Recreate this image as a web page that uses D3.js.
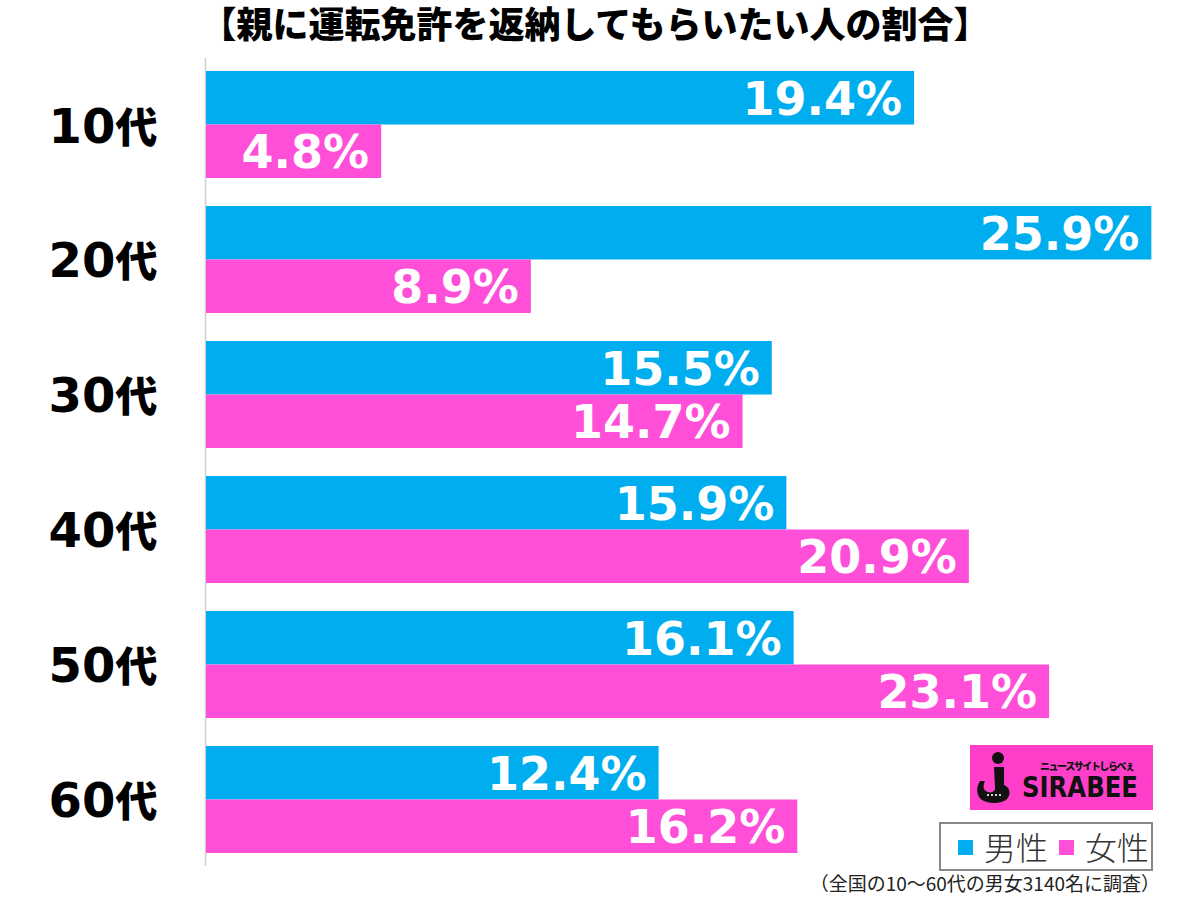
<!DOCTYPE html>
<html><head><meta charset="utf-8">
<script src="https://cdn.jsdelivr.net/npm/d3@7/dist/d3.min.js"></script>
<style>body{margin:0;background:#fff}svg{display:block}</style>
</head><body>
<svg id="c" width="1200" height="897"></svg>
<script>
const categories = ["10代","20代","30代","40代","50代","60代"];
const seriesNames = ["男性","女性"];
const male = [19.4, 25.9, 15.5, 15.9, 16.1, 12.4];
const female = [4.8, 8.9, 14.7, 20.9, 23.1, 16.2];
const title = "【親に運転免許を返納してもらいたい人の割合】";
const footnote = "（全国の10～60代の男女3140名に調査）";
const colors = ["#00aeef", "#ff4fd8"];

const svg = d3.select("#c");
const jp = "'Noto Sans CJK JP', 'Noto Sans', sans-serif";
const num = "'DejaVu Sans', 'Noto Sans CJK JP', sans-serif";
const x = d3.scaleLinear().domain([0, 10]).range([206, 571]);
const y = d3.scaleBand().domain(categories).range([71, 853]).paddingInner(0.2074).paddingOuter(0);
const ys = d3.scaleBand().domain(seriesNames).range([0, y.bandwidth()]);
const color = d3.scaleOrdinal().domain(seriesNames).range(colors);

const rows = categories.map((c, i) => ({cat: c, vals: [
  {s: seriesNames[0], v: male[i]}, {s: seriesNames[1], v: female[i]}]}));

// title
svg.append("text").attr("x", 595).attr("y", 38)
  .attr("text-anchor", "middle").attr("font-family", jp).attr("font-weight", 900)
  .attr("font-size", 36).attr("fill", "#000").text(title);

// axis line
svg.append("line").attr("x1", 205.5).attr("x2", 205.5).attr("y1", 58).attr("y2", 866)
  .attr("stroke", "#d0d0d0").attr("stroke-width", 1.5);

const g = svg.selectAll("g.row").data(rows).join("g").attr("class", "row")
  .attr("transform", d => `translate(0,${y(d.cat)})`);

g.selectAll("rect").data(d => d.vals).join("rect")
  .attr("x", x(0)).attr("y", d => ys(d.s))
  .attr("width", d => x(d.v) - x(0)).attr("height", ys.bandwidth())
  .attr("fill", d => color(d.s));

g.selectAll("text.val").data(d => d.vals).join("text").attr("class", "val")
  .attr("x", d => x(d.v) - 12).attr("y", d => ys(d.s) + ys.bandwidth() / 2 + 17)
  .attr("text-anchor", "end").attr("font-family", num)
  .attr("font-weight", 700).attr("font-size", 46).attr("fill", "#fff")
  .text(d => d.v.toFixed(1) + "%");

// category labels
const cl = g.append("text").attr("x", 103).attr("y", y.bandwidth() / 2 + 18)
  .attr("text-anchor", "middle").attr("fill", "#000");
cl.append("tspan").attr("font-family", num).attr("font-weight", 700).attr("font-size", 48)
  .text(d => d.cat.replace("代", ""));
cl.append("tspan").attr("font-family", jp).attr("font-weight", 900).attr("font-size", 42)
  .text("代");

// logo
const logo = svg.append("g").attr("transform", "translate(970,745)");
logo.append("rect").attr("width", 183).attr("height", 65).attr("fill", "#ff3fc9");
logo.append("circle").attr("cx", 28).attr("cy", 13).attr("r", 6).attr("fill", "#111");
logo.append("path")
  .attr("d", "M24,22 L34,22 L34,40 C40,42 42,50 36,55 C30,59 18,59 12,55 C6,51 6,42 10,36 L15,36 C13,40 13,44 16,46 C20,49 26,47 25,42 Z")
  .attr("fill", "#111");
[18, 22, 26, 30].forEach(cx => logo.append("circle").attr("cx", cx).attr("cy", 50).attr("r", 1.1).attr("fill", "#fff"));
logo.append("text").attr("x", 52).attr("y", 52).attr("font-family", "'DejaVu Sans', sans-serif")
  .attr("font-weight", 700).attr("font-size", 28)
  .attr("textLength", 116).attr("lengthAdjust", "spacingAndGlyphs").attr("fill", "#111").text("SIRABEE");
logo.append("text").attr("x", 70).attr("y", 25).attr("font-family", jp)
  .attr("font-weight", 900).attr("font-size", 10).attr("textLength", 95)
  .attr("fill", "#111").text("ニュースサイトしらべぇ");

// legend
const lg = svg.append("g").attr("transform", "translate(940,823)");
lg.append("rect").attr("x", 0).attr("y", 0).attr("width", 212).attr("height", 47)
  .attr("fill", "#fff").attr("stroke", "#888").attr("stroke-width", 2);
seriesNames.forEach((s, i) => {
  const ox = 18 + i * 101;
  lg.append("rect").attr("x", ox).attr("y", 17).attr("width", 15).attr("height", 15).attr("fill", color(s));
  lg.append("text").attr("x", ox + 26).attr("y", 37).attr("font-family", jp)
    .attr("font-weight", 300).attr("font-size", 32).attr("fill", "#333").text(s);
});

// footnote
svg.append("text").attr("x", 1160).attr("y", 891).attr("text-anchor", "end")
  .attr("font-family", jp).attr("font-size", 19).attr("fill", "#222").text(footnote);
</script>
</body></html>
